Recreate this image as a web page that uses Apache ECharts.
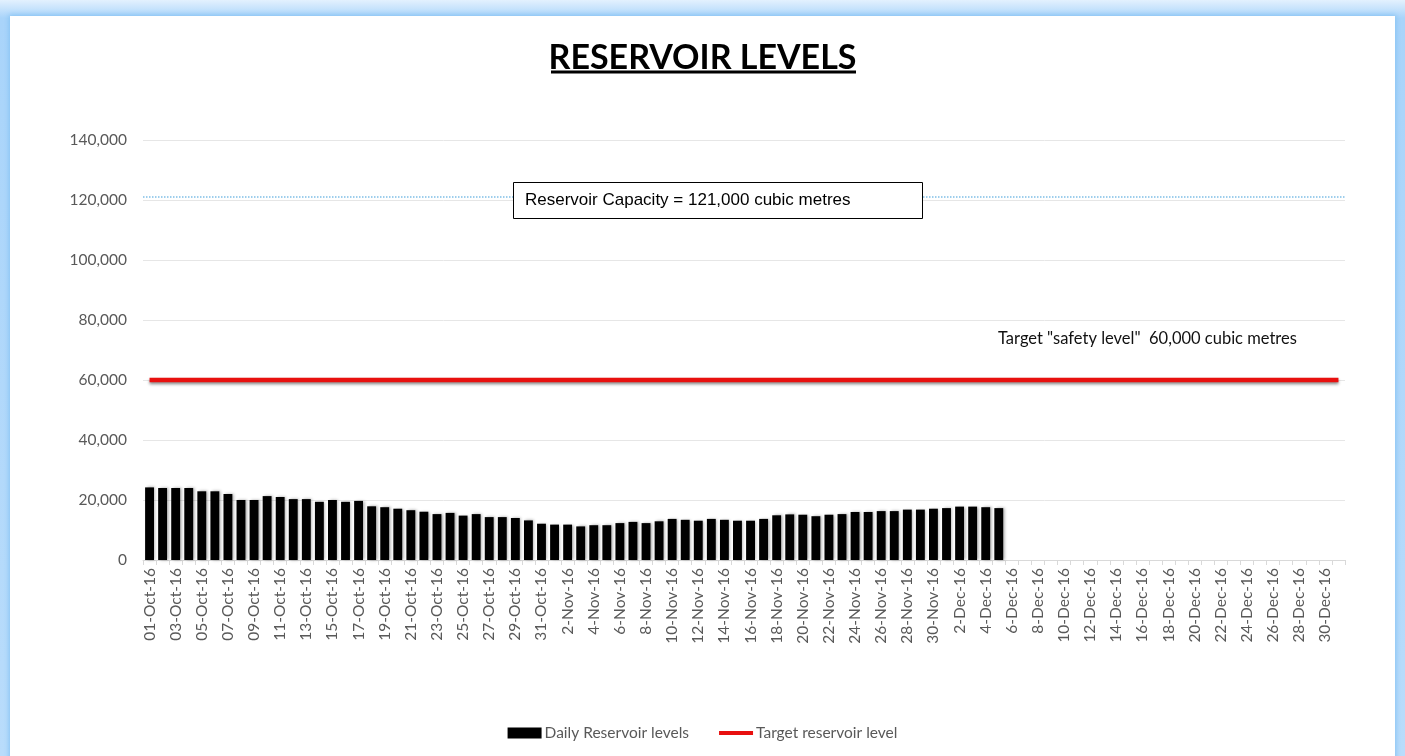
<!DOCTYPE html>
<html>
<head>
<meta charset="utf-8">
<script src="https://cdn.jsdelivr.net/npm/echarts@6/dist/echarts.min.js"></script>
<style>
  html, body { margin: 0; padding: 0; width: 1405px; height: 756px; overflow: hidden; }
  body { background: linear-gradient(#e3f1fe, #a9d4fa 18px, #b9dcfb); position: relative; }
  .frame { position: absolute; left: 10px; top: 16px; width: 1385px; height: 760px; background: #fff; box-shadow: 0 0 5px 1px #86c3f3; }
  #chart { position: absolute; left: 0; top: 0; width: 1405px; height: 756px; }
</style>
</head>
<body>
<div class="frame"></div>
<div id="chart"></div>
<script>
// dates 01-Oct-16 .. 31-Dec-16 (October written with two-digit day)
const months = [
  { name: 'Oct', days: 31, pad: true },
  { name: 'Nov', days: 30, pad: false },
  { name: 'Dec', days: 31, pad: false }
];
const dates = [];
months.forEach(m => {
  for (let d = 1; d <= m.days; d++) {
    dates.push((m.pad && d < 10 ? '0' + d : '' + d) + '-' + m.name + '-16');
  }
});

// daily reservoir levels, cubic metres (01-Oct .. 05-Dec)
const dailyLevels = [
  24200, 24000, 24000, 24000, 22900, 22900, 22000, 20000, 20000, 21300,
  21000, 20300, 20300, 19400, 20000, 19400, 19700, 17900, 17600, 17100,
  16600, 16100, 15300, 15700, 14800, 15300, 14300, 14300, 14000, 13200,
  12100, 11800, 11800, 11200, 11600, 11600, 12300, 12700, 12300, 12900,
  13700, 13400, 13100, 13700, 13400, 13100, 13100, 13700, 14900, 15200,
  15100, 14600, 15100, 15300, 16000, 16000, 16300, 16300, 16800, 16800,
  17100, 17300, 17800, 17800, 17600, 17300
];
const targetLevel = 60000;
const capacity = 121000;
const targetLine = dates.map(() => targetLevel);

const grey = '#595959';
const chart = echarts.init(document.getElementById('chart'));
chart.setOption({
  animation: false,
  title: {
    text: 'RESERVOIR LEVELS',
    left: 'center',
    top: 36,
    textStyle: { fontFamily: "'Liberation Sans Narrow', Lato, sans-serif", fontWeight: 'bold', fontSize: 34, color: '#000' }
  },
  graphic: [
    { type: 'line', shape: { x1: 551, y1: 72, x2: 856, y2: 72 }, style: { stroke: '#000', lineWidth: 3 } },
    { type: 'rect', shape: { x: 513.5, y: 182.5, width: 409, height: 36 }, style: { fill: '#fff', stroke: '#000', lineWidth: 1 }, z: 10 },
    { type: 'text', left: 525, top: 192, z: 11, style: { text: 'Reservoir Capacity = 121,000 cubic metres', font: "17px 'Liberation Sans', Arial, sans-serif", fill: '#000' } },
    { type: 'text', left: 998, top: 330, z: 11, style: { text: 'Target "safety level"  60,000 cubic metres', font: "16.5px Lato, sans-serif", fill: '#111' } }
  ],
  grid: { left: 143, right: 60, top: 140, bottom: 196 },
  legend: {
    bottom: 10,
    left: 'center',
    itemWidth: 34,
    itemHeight: 11,
    itemGap: 28,
    textStyle: { color: grey, fontFamily: 'Lato, sans-serif', fontSize: 15.5, padding: [0, 0, 0, -2] },
    data: [
      { name: 'Daily Reservoir levels', icon: 'rect' },
      { name: 'Target reservoir level', itemStyle: { opacity: 0 }, lineStyle: { width: 4 } }
    ]
  },
  xAxis: {
    type: 'category',
    data: dates,
    axisLine: { lineStyle: { color: '#d9d9d9' } },
    axisTick: { show: true, interval: 0, length: 5, lineStyle: { color: '#d9d9d9' } },
    axisLabel: { interval: 1, rotate: 90, color: grey, fontFamily: 'Lato, sans-serif', fontSize: 15.5, margin: 8 }
  },
  yAxis: {
    type: 'value',
    min: 0,
    max: 140000,
    interval: 20000,
    axisLine: { show: false },
    axisTick: { show: false },
    splitLine: { lineStyle: { color: '#e6e6e6' } },
    axisLabel: {
      color: grey, fontFamily: 'Lato, sans-serif', fontSize: 15.5, margin: 16,
      formatter: v => v.toLocaleString('en-US')
    }
  },
  series: [
    {
      name: 'Daily Reservoir levels',
      type: 'bar',
      data: dailyLevels,
      barCategoryGap: '32%',
      itemStyle: { color: '#000', shadowColor: 'rgba(0,0,0,0.35)', shadowBlur: 3, shadowOffsetX: 1.5 },
      markLine: {
        silent: true,
        symbol: 'none',
        label: { show: false },
        lineStyle: { color: '#7fbfe6', type: 'dotted', width: 1.5 },
        data: [{ yAxis: capacity }]
      }
    },
    {
      name: 'Target reservoir level',
      type: 'line',
      data: targetLine,
      symbol: 'none',
      itemStyle: { color: '#e8100f' },
      lineStyle: { color: '#e8100f', width: 4.5, shadowColor: 'rgba(0,0,0,0.45)', shadowBlur: 3, shadowOffsetY: 2 }
    }
  ]
});
</script>
</body>
</html>
